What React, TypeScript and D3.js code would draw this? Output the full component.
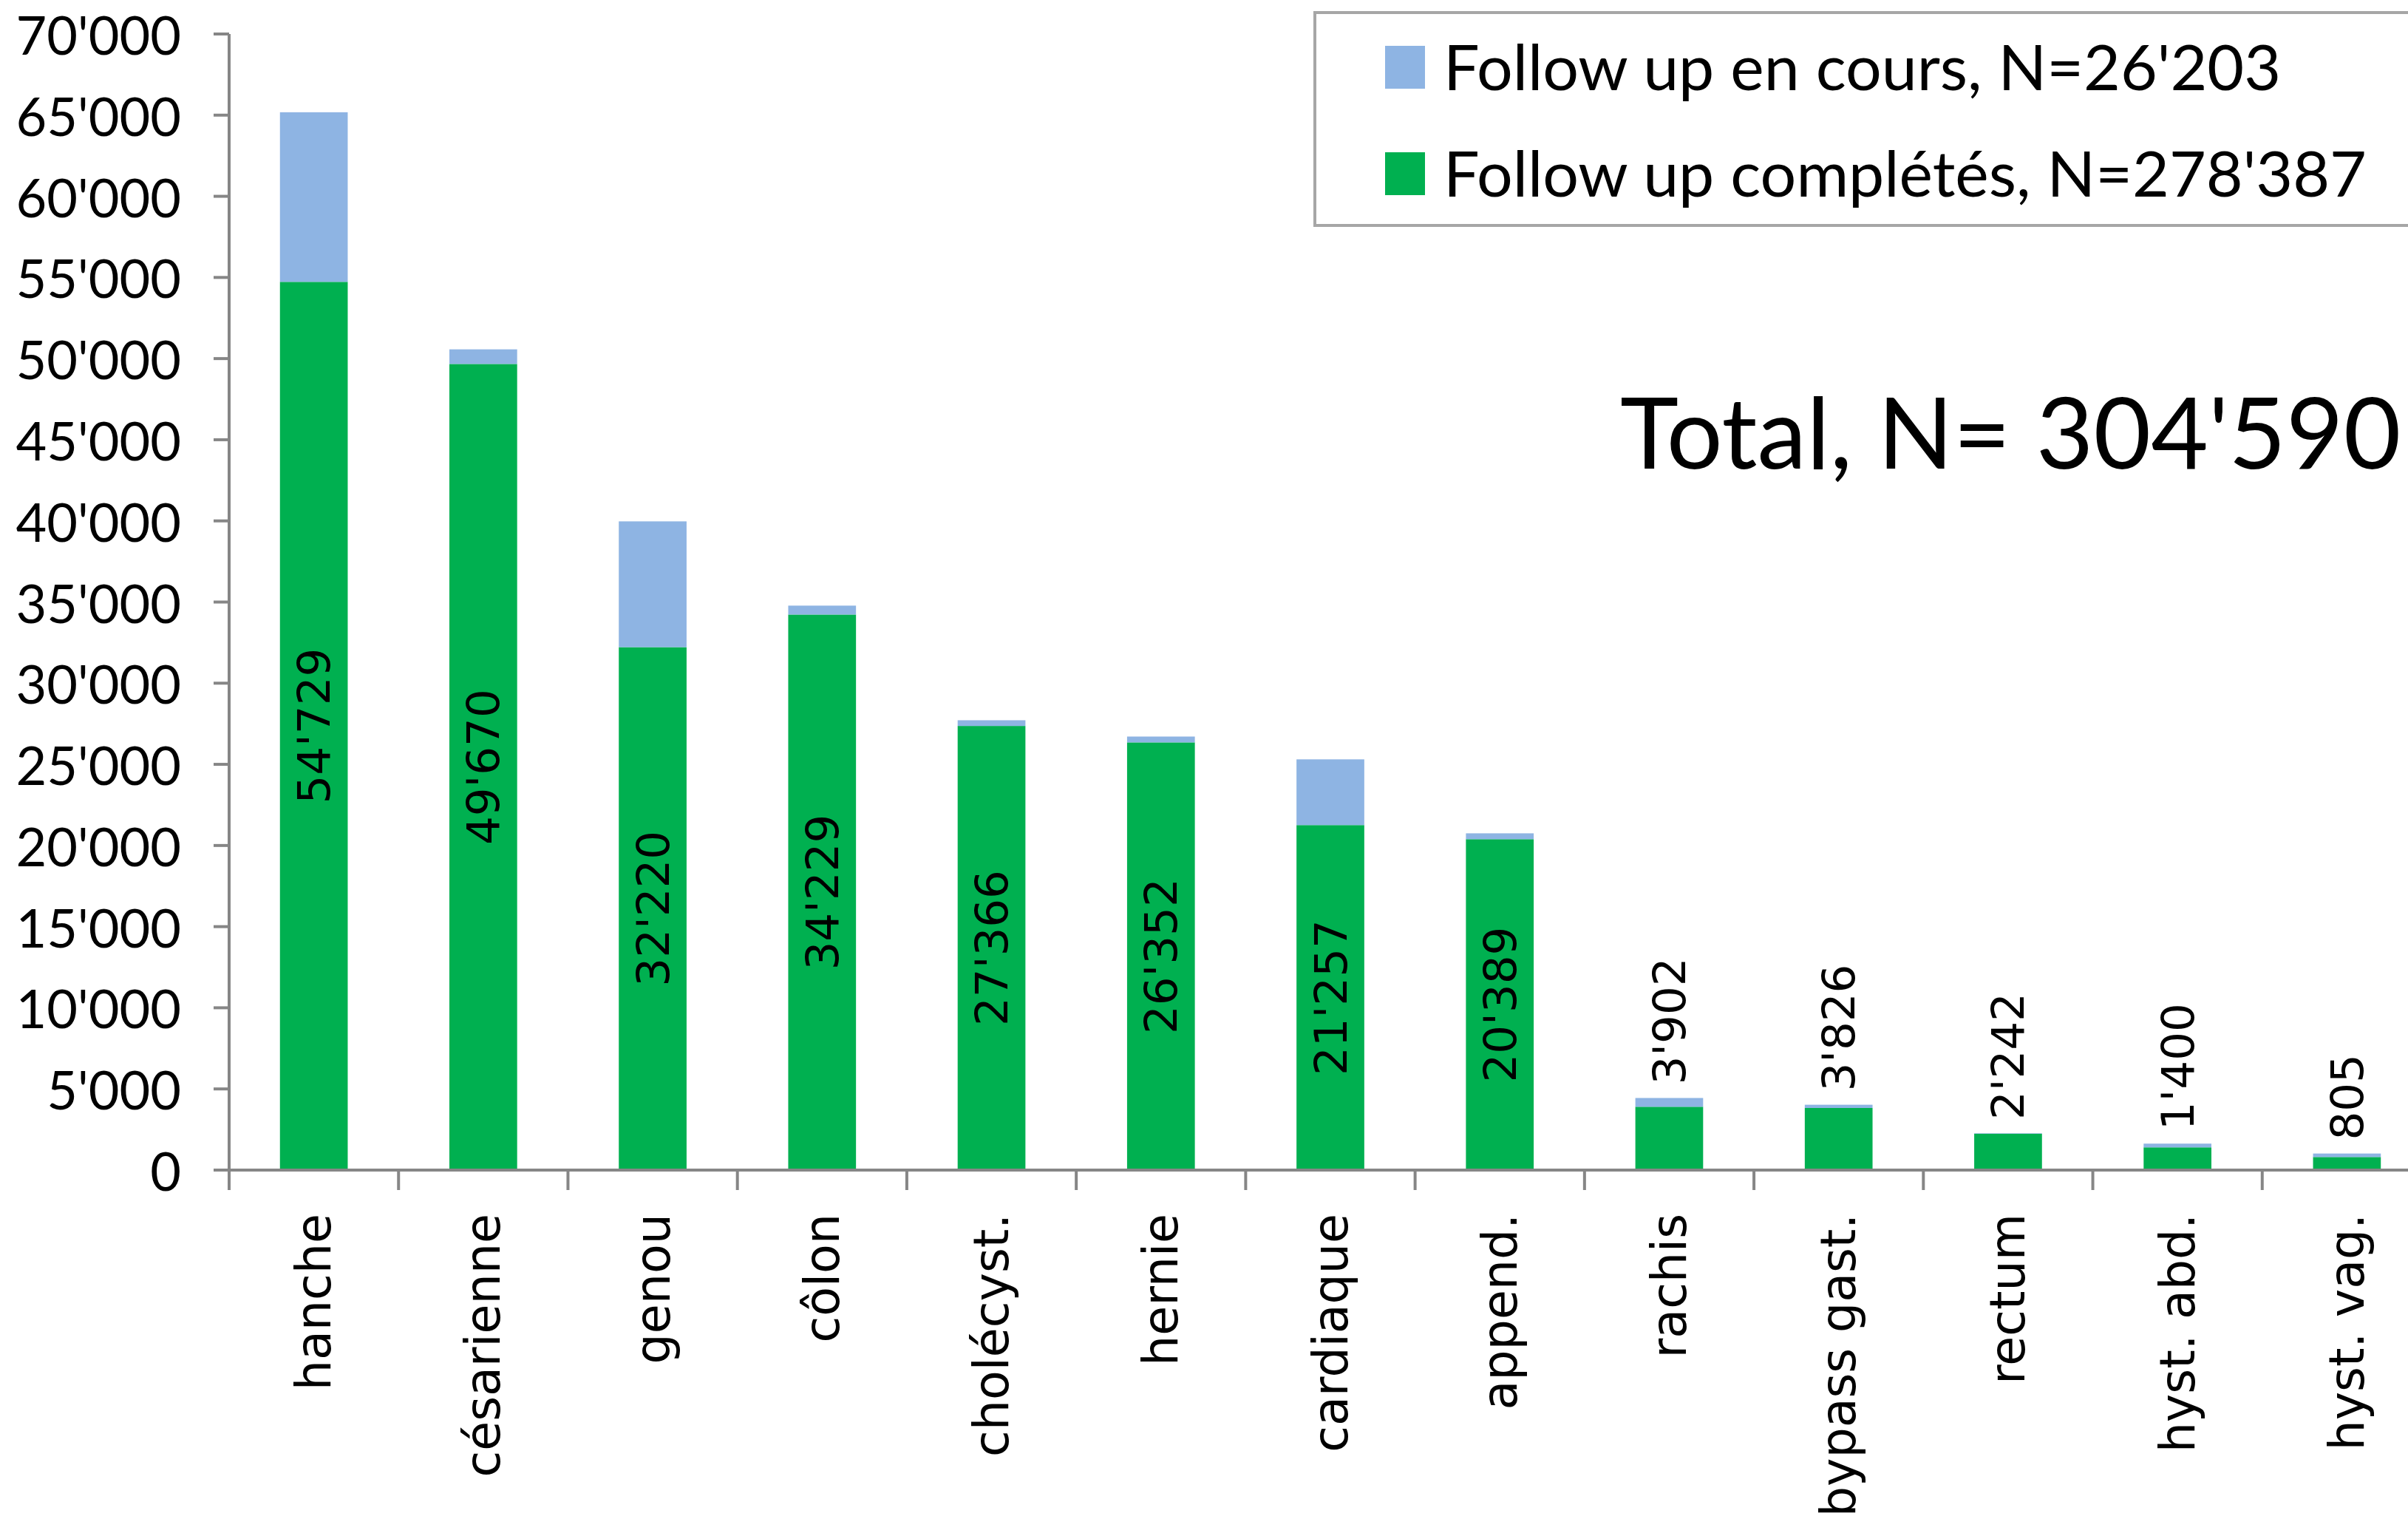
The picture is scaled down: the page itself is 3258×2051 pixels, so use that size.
import React from "react"
import * as d3 from "d3"

const categories = [
  "hanche", "césarienne", "genou", "côlon", "cholécyst.", "hernie", "cardiaque",
  "append.", "rachis", "bypass gast.", "rectum", "hyst. abd.", "hyst. vag.",
]
// follow up complétés (the numbers written on the bars)
const completed = [54729, 49670, 32220, 34229, 27366, 26352, 21257, 20389, 3902, 3826, 2242, 1400, 805]
// follow up en cours
const ongoing = [10450, 900, 7750, 550, 350, 360, 4050, 360, 540, 200, 30, 230, 215]
const yTicks = d3.range(0, 70001, 5000)
const legendLabels = ["Follow up en cours, N=26'203", "Follow up complétés, N=278'387"]
const totalLabel = "Total, N= 304'590"

const W = 3258
const H = 2051
const green = "#00B050"
const blue = "#8EB4E3"
const axisGray = "#868686"
const sans = "Lato, 'Open Sans', sans-serif"
const verd = "'DejaVu Sans', Verdana, sans-serif"

const fmt = d3.formatLocale({ decimal: ".", thousands: "'", grouping: [3], currency: ["", ""] }).format(",d")

export default function App() {
  const left = 310
  const right = 3290 // plot runs past the picture edge, as in the original
  const y = d3.scaleLinear().domain([0, 70000]).range([1583, 46])
  const x = d3.scaleBand().domain(categories).range([left, right]).paddingInner(0.6).paddingOuter(0.3)
  const xEdge = d3.scaleBand().domain(categories).range([left, right])

  const rows = categories.map((c, i) => ({ cat: c, completed: completed[i], ongoing: ongoing[i] }))
  const series = d3.stack<any>().keys(["completed", "ongoing"])(rows)
  const colors = [green, blue]

  const tickEdges = [...categories.map((c) => xEdge(c)!), right]

  return (
    <svg width={W} height={H} style={{ position: "absolute", left: 0, top: 0, background: "#fff" }}>
      {/* bars */}
      {series.map((s, si) => (
        <g key={si} fill={colors[si]}>
          {s.map((d, i) => (
            <rect
              key={i}
              x={x(categories[i])}
              y={y(d[1])}
              width={x.bandwidth()}
              height={Math.max(0, y(d[0]) - y(d[1]))}
            />
          ))}
        </g>
      ))}

      {/* axes */}
      <g stroke={axisGray} strokeWidth={4}>
        <line x1={left} x2={left} y1={y(70000)} y2={y(0) + 27} />
        <line x1={left - 21} x2={W} y1={y(0)} y2={y(0)} />
        {yTicks.map((t) => (
          <line key={t} x1={left - 21} x2={left} y1={y(t)} y2={y(t)} />
        ))}
        {tickEdges.map((e, i) => (
          <line key={i} x1={e} x2={e} y1={y(0)} y2={y(0) + 27} />
        ))}
      </g>

      {/* y tick labels */}
      <g fontFamily={sans} fontSize={72} textAnchor="end" fill="#000">
        {yTicks.map((t) => (
          <text key={t} x={245} y={y(t)} dominantBaseline="central">
            {fmt(t)}
          </text>
        ))}
      </g>

      {/* category labels */}
      <g fontFamily={verd} fontSize={65} textAnchor="end" fill="#000">
        {categories.map((c) => {
          const cx = x(c)! + x.bandwidth() / 2
          return (
            <text key={c} transform={`translate(${cx},1642) rotate(-90)`} dominantBaseline="central">
              {c}
            </text>
          )
        })}
      </g>

      {/* data labels of the completed series */}
      <g fontFamily={verd} fontSize={61} fill="#000">
        {categories.map((c, i) => {
          const cx = x(c)! + x.bandwidth() / 2
          const segH = y(0) - y(completed[i])
          const inside = segH > 260
          const ty = inside ? (y(0) + y(completed[i])) / 2 : y(completed[i] + ongoing[i]) - 18
          return (
            <text
              key={c}
              transform={`translate(${cx},${ty}) rotate(-90)`}
              textAnchor={inside ? "middle" : "start"}
              dominantBaseline="central"
            >
              {fmt(completed[i])}
            </text>
          )
        })}
      </g>

      {/* legend */}
      <rect x={1779} y={17} width={1600} height={288} fill="#fff" stroke="#a6a6a6" strokeWidth={4} />
      {legendLabels.map((l, i) => (
        <g key={l}>
          <rect x={1874} y={62 + i * 144} width={54} height={58} fill={[blue, green][i]} />
          <text x={1953} y={122 + i * 144} fontFamily={sans} fontSize={86} fill="#000">
            {l}
          </text>
        </g>
      ))}

      <text x={2192} y={634} fontFamily={sans} fontSize={134} fill="#000">
        {totalLabel}
      </text>
    </svg>
  )
}
